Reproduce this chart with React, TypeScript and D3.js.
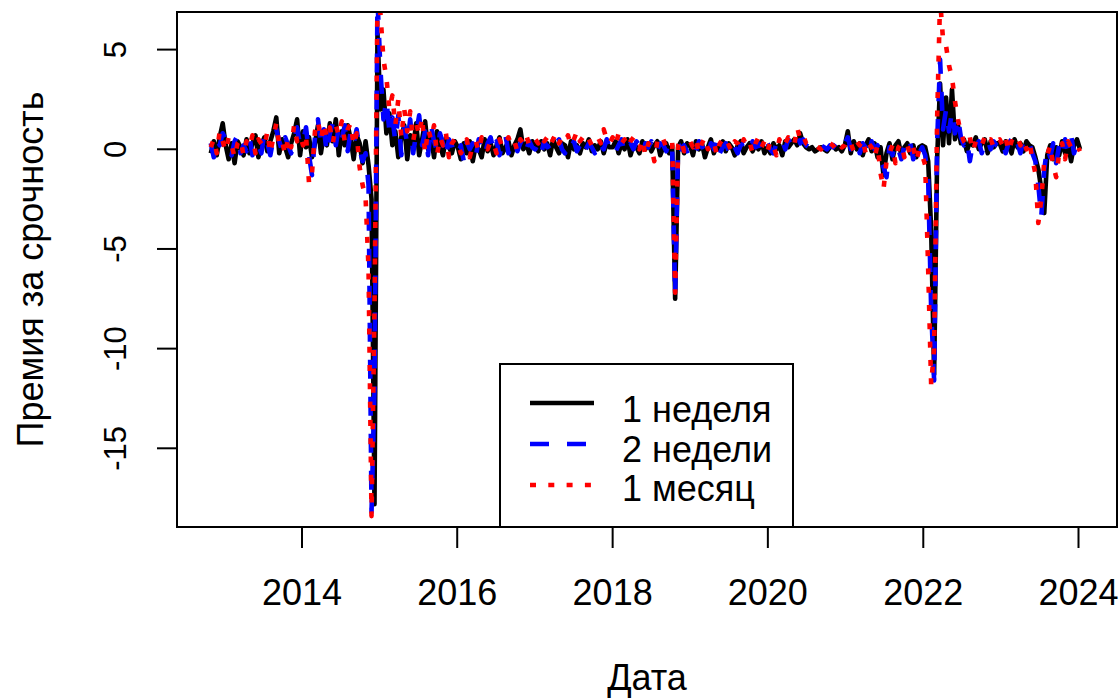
import React from 'react';
import * as d3 from 'd3';

const W = 1119;
const H = 700;
const PLOT = { left: 177, top: 12, right: 1117, bottom: 527 };
const FONT = '"Liberation Sans", Arial, Helvetica, sans-serif';

// Observation calendar: one fixing every two weeks, starting 29 Oct 2012
const FIRST_DATE = new Date(2012, 9, 29);
const STEP_DAYS = 14;

const X_TICK_YEARS = [2014, 2016, 2018, 2020, 2022, 2024];
const Y_TICKS = [-15, -10, -5, 0, 5];
const SERIES_LABELS = ['1 неделя', '2 недели', '1 месяц'];
const X_TITLE = 'Дата';
const Y_TITLE = 'Премия за срочность';

// Term premium, 1 week horizon
const week1 = [
  -0.2, 0.4, -0.3, 0.6, 1.3,
  // 2013
  0.2, -0.5, 0.3, -0.7, 0.4, 0.1, -0.3, 0.5, -0.2, 0.3, 0.7, -0.4, 0.2, 0.6, -0.1, 0.4, 0.9, 1.6, -0.2, 0.5, 0.1, -0.4, 0.3, 0.8, 1.5, -0.3,
  // 2014
  0.9, 0.1, 0.6, -0.4, 0.3, 1.2, -0.2, 0.8, 0.2, 1.3, 0.4, 1.5, -0.3, 0.9, 0.2, 1.2, 0.5, -0.5, 0.7, 0.3, -0.7, 0.4, -0.8, -2.5, -17.8, 5.8,
  // 2015
  2.0, 3.0, 0.8, 1.8, 0.2, 0.9, -0.4, 0.6, 1.2, -0.5, 0.7, 0.1, 1.3, -0.3, 0.5, 1.4, 0.0, 0.6, -0.4, 0.9, 0.2, -0.3, 0.6, 0.1, -0.2, 0.4,
  // 2016
  0.1, -0.5, 0.3, -0.2, 0.4, -0.6, 0.2, 0.0, -0.4, 0.5, -0.1, 0.3, -0.3, 0.2, 0.6, -0.2, 0.1, 0.4, -0.3, 0.2, 0.5, 1.0, 0.0, 0.3, -0.2, 0.4,
  // 2017
  0.2, -0.1, 0.4, 0.0, 0.3, -0.3, 0.5, 0.1, -0.2, 0.3, 0.2, -0.4, 0.4, 0.0, 0.2, -0.2, 0.3, 0.1, 0.5, -0.1, 0.2, 0.0, 0.4, -0.2, 0.3, 0.1,
  // 2018
  0.1, 0.4, -0.2, 0.3, 0.0, 0.5, -0.3, 0.2, 0.1, -0.2, 0.4, 0.0, 0.3, -0.1, 0.2, 0.4, -0.3, 0.1, 0.3, -0.2, 0.2, -7.5, 0.1, 0.4, -0.2, 0.3,
  // 2019
  0.2, -0.3, 0.4, 0.0, 0.3, -0.4, 0.1, 0.5, -0.2, 0.2, 0.0, 0.4, -0.1, 0.3, 0.1, -0.3, 0.2, 0.4, -0.2, 0.1, 0.3, -0.1, 0.2, 0.0, 0.4, -0.2,
  // 2020
  0.1, -0.2, 0.3, 0.0, 0.2, -0.3, 0.4, 0.1, 0.3, 0.5, 0.2, 0.8, 0.3, 0.1, 0.0, 0.1, -0.1, 0.0, 0.1, 0.0, -0.1, 0.1, 0.2, 0.0, 0.1, -0.1,
  // 2021
  0.2, 0.9, -0.2, 0.4, 0.0, 0.3, -0.3, 0.2, 0.5, -0.1, 0.3, -0.4, 0.1, -1.3, -0.2, 0.3, -0.5, 0.2, 0.4, -0.3, 0.1, 0.3, -0.2, 0.2, -0.4, 0.1,
  // 2022
  0.2, 0.1, -0.6, -4.0, -11.3, -0.5, 3.3, 0.2, 2.6, 0.3, 3.0, 0.5, 1.2, 0.3, 0.5, -0.1, 0.4, 0.2, 0.6, 0.0, 0.3, 0.5, -0.2, 0.4, 0.1, 0.3,
  // 2023
  0.3, -0.1, 0.4, 0.2, -0.2, 0.5, 0.1, 0.3, -0.1, 0.4, 0.2, 0.1, -0.4, -1.0, -2.0, -3.2, -0.3, 0.2, -0.5, 0.1, -0.3, 0.4, -0.2, 0.3, -0.6, 0.2,
  // 2024
  0.5, 0.0,
];

// Term premium, 2 week horizon
const week2 = [
  0.3, -0.4, 0.5, 0.2, 0.8,
  // 2013
  0.5, 0.1, -0.3, 0.4, 0.7, -0.2, 0.2, -0.1, 0.6, -0.3, 0.4, 0.2, -0.2, 0.8, 0.3, -0.3, 0.5, 1.0, 0.4, -0.1, 0.6, 0.2, -0.2, 0.5, 1.1, 0.2,
  // 2014
  0.4, 1.1, -0.3, -1.3, 0.6, 1.5, 0.3, 1.0, -0.2, 0.8, 1.3, 0.2, 1.1, 0.5, 1.2, -0.1, 0.9, 0.3, 1.0, 0.0, -0.6, -0.2, -1.8, -18.2, -12.0, 7.5,
  // 2015
  4.0, 1.5, 2.5, 0.9, 1.6, 0.4, 1.7, -0.3, 1.1, 0.3, 1.5, -0.2, 0.8, 1.7, 0.2, 0.9, -0.3, 1.2, 0.4, -0.1, 0.8, 0.3, -0.4, 0.5, 0.2, -0.3,
  // 2016
  -0.3, 0.2, -0.6, 0.4, 0.0, 0.3, -0.4, 0.5, 0.1, -0.3, 0.3, 0.6, -0.1, 0.4, -0.3, 0.3, 0.7, -0.2, 0.2, 0.5, -0.1, 0.3, 0.6, 0.0, 0.4, 0.1,
  // 2017
  0.0, 0.3, -0.2, 0.4, 0.1, 0.2, -0.1, 0.3, 0.5, 0.0, -0.2, 0.3, 0.1, 0.4, -0.1, 0.2, 0.5, 0.0, 0.3, 0.1, -0.2, 0.4, 0.2, 0.0, 0.5, 0.1,
  // 2018
  0.3, -0.1, 0.2, 0.5, -0.2, 0.1, 0.3, 0.0, 0.4, 0.2, -0.3, 0.3, 0.1, 0.4, -0.2, 0.0, 0.3, 0.2, -0.1, 0.4, 0.0, -7.3, 0.3, 0.0, 0.2, -0.1,
  // 2019
  0.0, 0.3, -0.1, 0.4, 0.1, 0.2, -0.3, 0.3, 0.0, 0.5, -0.2, 0.1, 0.3, -0.1, 0.4, 0.1, -0.2, 0.2, 0.3, 0.0, -0.1, 0.4, 0.1, 0.3, -0.2, 0.2,
  // 2020
  0.3, 0.0, -0.2, 0.3, 0.1, 0.4, 0.0, 0.5, 0.2, 0.4, 0.7, 0.3, 0.5, 0.2, 0.1, 0.2, 0.0, 0.1, 0.2, 0.1, 0.0, 0.2, 0.1, 0.3, 0.0, 0.2,
  // 2021
  0.3, 0.6, 0.0, 0.2, 0.4, -0.2, 0.3, 0.1, -0.3, 0.4, 0.0, 0.2, -0.6, -0.9, -1.4, 0.1, -0.3, 0.3, 0.0, -0.5, 0.2, -0.1, 0.3, -0.5, 0.1, -0.2,
  // 2022
  0.1, -0.3, -1.5, -8.0, -11.6, 0.3, 4.5, 1.0, 2.0, 0.9, 1.9, 0.8, 1.6, 0.6, 0.2, 0.5, -0.6, 0.3, 0.1, 0.4, -0.2, 0.3, 0.5, 0.0, 0.4, 0.2,
  // 2023
  0.1, 0.4, -0.2, 0.3, 0.5, 0.0, 0.3, -0.2, 0.4, 0.1, 0.3, -0.2, -0.6, -1.8, -3.4, -1.0, 0.1, -0.4, 0.3, -0.7, 0.2, -0.3, 0.5, 0.0, 0.7, -0.2,
  // 2024
  0.3, 0.1,
];

// Term premium, 1 month horizon
const month1 = [
  0.1, 0.5, -0.2, 0.9, 0.4,
  // 2013
  -0.1, 0.6, 0.2, -0.4, 0.3, 0.5, -0.3, 0.4, 0.1, 0.7, -0.2, 0.5, 0.3, 0.1, 0.9, -0.2, 0.6, 1.3, 0.2, 0.4, -0.3, 0.6, 0.1, 1.2, 0.4, 0.7,
  // 2014
  0.2, 0.7, -1.7, -1.2, 0.9, 1.4, 0.5, 1.3, 0.6, 1.1, 0.3, 1.2, 0.7, 1.4, 0.4, 1.0, 1.3, 0.2, 0.8, -0.9, -1.8, -2.4, -6.0, -18.4, -8.0, 7.5,
  // 2015
  6.8, 4.5, 3.6, 2.0, 2.7, 1.2, 2.5, 0.6, 2.0, 0.9, 1.9, 0.4, 1.3, 0.7, 1.6, -0.2, 1.0, 0.5, 1.2, -0.3, 0.6, 0.2, 0.8, -0.4, 0.3, 0.5,
  // 2016
  0.3, -0.2, 0.1, 0.5, -0.4, 0.2, 0.4, -0.1, 0.6, 0.2, 0.0, 0.4, 0.3, -0.2, 0.5, 0.1, 0.3, 0.6, 0.2, 0.4, -0.1, 0.5, 0.3, 0.7, 0.2, 0.5,
  // 2017
  0.5, 0.3, 0.7, 0.4, 0.6, 0.2, 0.5, 0.8, 0.3, 0.6, 0.4, 0.7, 0.2, 0.5, 0.9, 0.4, 0.6, 0.3, 0.5, 0.2, 0.4, 0.6, 0.3, 1.0, 0.5, 0.3,
  // 2018
  0.6, 0.2, 0.8, 0.3, 0.5, 0.1, 0.4, 0.6, 0.2, 0.0, 0.5, -0.3, 0.3, 0.1, -0.6, 0.4, 0.2, 0.5, 0.1, 0.3, 0.4, -7.2, 0.2, 0.5, -0.1, 0.3,
  // 2019
  0.4, 0.1, 0.5, -0.2, 0.3, 0.6, 0.0, 0.2, 0.4, -0.3, 0.3, 0.5, 0.1, 0.2, -0.1, 0.4, 0.3, 0.0, 0.5, 0.2, 0.4, -0.2, 0.3, 0.6, 0.1, 0.4,
  // 2020
  -0.1, 0.4, 0.2, -0.3, 0.5, 0.1, 0.3, 0.6, 0.4, 0.2, 1.1, 0.5, 0.7, 0.3, 0.2, 0.1, 0.2, 0.1, 0.0, 0.2, 0.1, 0.3, 0.2, 0.0, 0.3, 0.1,
  // 2021
  0.2, 0.5, 0.3, -0.1, 0.4, 0.2, 0.5, -0.2, 0.3, 0.1, -0.4, 0.2, -1.2, -2.0, -0.6, -0.2, 0.2, -0.7, 0.1, 0.3, -0.4, 0.2, -0.3, 0.1, -0.6, 0.0,
  // 2022
  -0.3, -0.8, -6.0, -11.8, -10.0, 1.5, 7.5, 5.5, 5.2, 4.2, 3.6, 2.4, 1.5, 0.8, 0.4, 0.2, 0.6, -0.1, 0.4, 0.5, 0.2, 0.6, 0.3, 0.5, 0.1, 0.4,
  // 2023
  0.5, 0.2, 0.6, -0.1, 0.4, 0.3, 0.6, 0.2, 0.5, 0.0, 0.4, -0.5, -1.2, -3.7, -2.5, -0.6, -0.3, 0.2, -0.8, -1.4, -0.2, 0.3, -0.5, 0.4, 0.1, 0.3,
  // 2024
  0.2, -0.1,
];

const SERIES = [
  { key: 'w1', values: week1, color: '#000000', dash: undefined as string | undefined },
  { key: 'w2', values: week2, color: '#0000FF', dash: '19,18' },
  { key: 'm1', values: month1, color: '#FF0000', dash: '6,12.3' },
];

const LINE_WIDTH = 4.6;

export default function App() {
  const dates = week1.map((_, i) => d3.timeDay.offset(FIRST_DATE, i * STEP_DAYS));

  const x = d3
    .scaleTime()
    .domain([new Date(2014, 0, 1), new Date(2024, 0, 1)])
    .range([302, 1078.5]);
  const y = d3.scaleLinear().domain([-15, 5]).range([448.3, 49.6]);

  const line = d3
    .line<number>()
    .x((_, i) => x(dates[i]))
    .y((d) => y(d));

  const plotW = PLOT.right - PLOT.left;
  const plotH = PLOT.bottom - PLOT.top;

  const legend = { left: 500, top: 364, right: 793 };
  const legendRows = [403, 444, 485];
  const legendBase = [422, 462, 501];

  return (
    <svg
      width={W}
      height={H}
      viewBox={`0 0 ${W} ${H}`}
      style={{ position: 'absolute', left: 0, top: 0, background: '#fff' }}
      fontFamily={FONT}
    >
      <rect x={0} y={0} width={W} height={H} fill="#fff" />
      <defs>
        <clipPath id="plot-clip">
          <rect x={PLOT.left} y={PLOT.top} width={plotW} height={plotH} />
        </clipPath>
      </defs>

      <g clipPath="url(#plot-clip)">
        {SERIES.map((s) => (
          <path
            key={s.key}
            d={line(s.values) || ''}
            fill="none"
            stroke={s.color}
            strokeWidth={LINE_WIDTH}
            strokeDasharray={s.dash}
            strokeLinejoin="round"
            strokeLinecap="butt"
          />
        ))}
      </g>

      {/* plot frame */}
      <rect
        x={PLOT.left}
        y={PLOT.top}
        width={plotW}
        height={plotH}
        fill="none"
        stroke="#000"
        strokeWidth={2}
      />

      {/* x axis */}
      {X_TICK_YEARS.map((yr) => {
        const px = x(new Date(yr, 0, 1));
        return (
          <g key={yr}>
            <line x1={px} x2={px} y1={PLOT.bottom} y2={PLOT.bottom + 21} stroke="#000" strokeWidth={2} />
            <text x={px} y={605} textAnchor="middle" fontSize={36} fill="#000">
              {yr}
            </text>
          </g>
        );
      })}
      <text x={(PLOT.left + PLOT.right) / 2} y={690} textAnchor="middle" fontSize={36} fill="#000">
        {X_TITLE}
      </text>

      {/* y axis */}
      {Y_TICKS.map((t) => {
        const py = y(t);
        return (
          <g key={t}>
            <line x1={PLOT.left - 20} x2={PLOT.left} y1={py} y2={py} stroke="#000" strokeWidth={2} />
            <text
              transform={`translate(126, ${py}) rotate(-90)`}
              textAnchor="middle"
              fontSize={31}
              fill="#000"
            >
              {t}
            </text>
          </g>
        );
      })}
      <text
        transform={`translate(43, ${(PLOT.top + PLOT.bottom) / 2}) rotate(-90)`}
        textAnchor="middle"
        fontSize={36}
        fill="#000"
      >
        {Y_TITLE}
      </text>

      {/* legend */}
      <rect
        x={legend.left}
        y={legend.top}
        width={legend.right - legend.left}
        height={PLOT.bottom - legend.top}
        fill="#fff"
        stroke="#000"
        strokeWidth={2}
      />
      {SERIES.map((s, i) => (
        <g key={s.key}>
          <line
            x1={530}
            x2={594}
            y1={legendRows[i]}
            y2={legendRows[i]}
            stroke={s.color}
            strokeWidth={LINE_WIDTH}
            strokeDasharray={s.dash}
          />
          <text x={622} y={legendBase[i]} fontSize={36} fill="#000">
            {SERIES_LABELS[i]}
          </text>
        </g>
      ))}
    </svg>
  );
}
